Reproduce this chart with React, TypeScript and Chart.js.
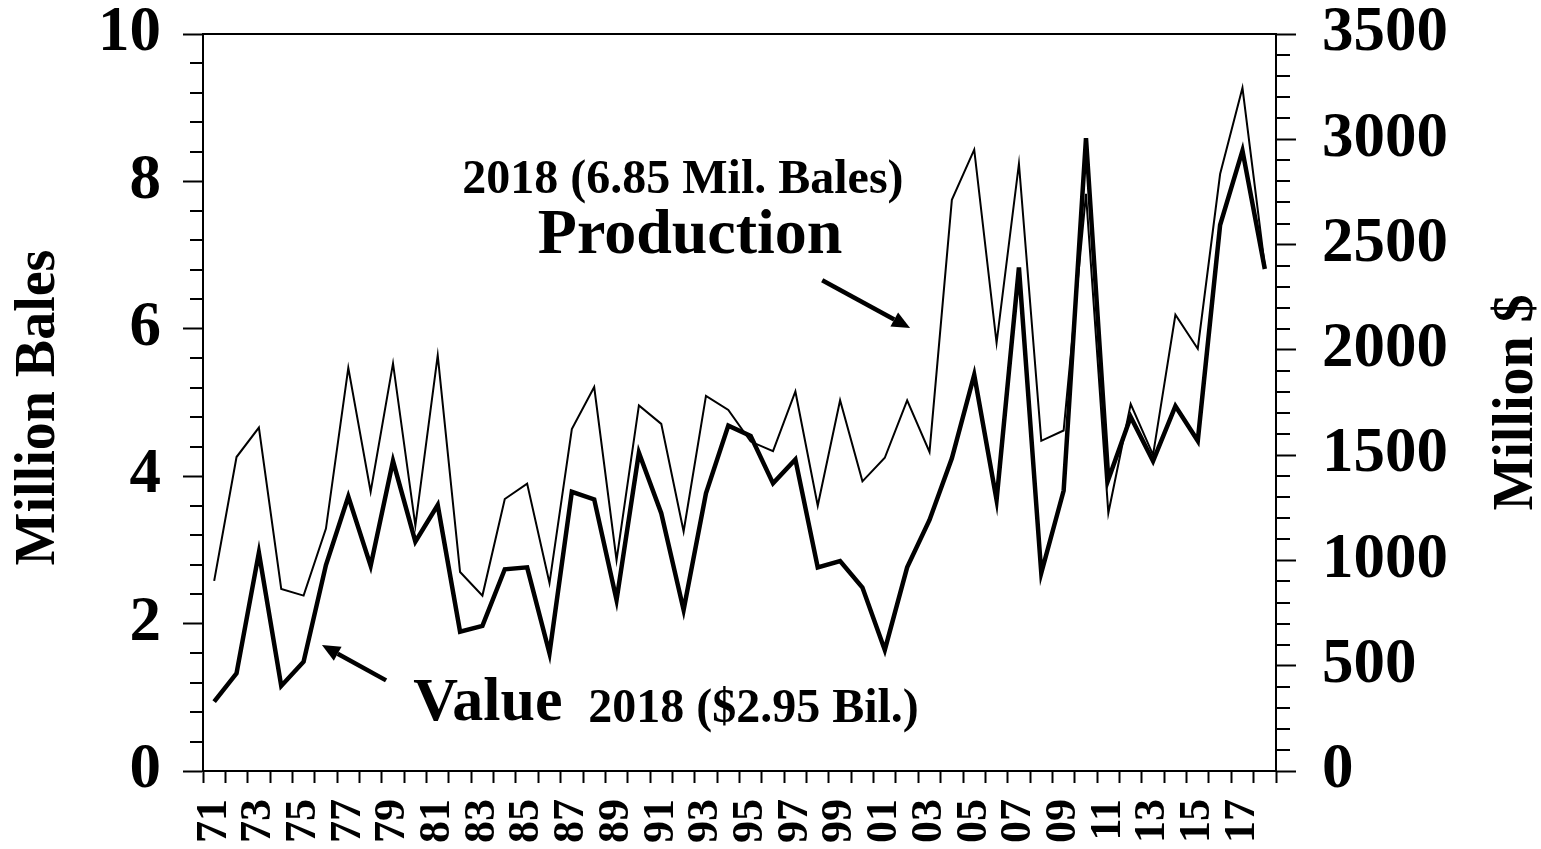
import React, { useEffect, useRef } from 'react';
import { Chart, registerables } from 'chart.js';

Chart.register(...registerables);

const years = [
  '71', '72', '73', '74', '75', '76', '77', '78', '79', '80',
  '81', '82', '83', '84', '85', '86', '87', '88', '89', '90',
  '91', '92', '93', '94', '95', '96', '97', '98', '99', '00',
  '01', '02', '03', '04', '05', '06', '07', '08', '09', '10',
  '11', '12', '13', '14', '15', '16', '17', '18',
];

// Million bales (left axis)
const production = [
  2.58, 4.26, 4.66, 2.47, 2.38, 3.29, 5.47, 3.79, 5.53, 3.33,
  5.64, 2.70, 2.38, 3.69, 3.90, 2.55, 4.64, 5.21, 2.86, 4.96,
  4.71, 3.25, 5.09, 4.90, 4.47, 4.34, 5.15, 3.60, 5.03, 3.93,
  4.25, 5.03, 4.33, 7.75, 8.43, 5.81, 8.24, 4.48, 4.62, 7.83,
  3.50, 4.98, 4.29, 6.19, 5.73, 8.10, 9.27, 6.85,
];

// Million $ (right axis)
const value = [
  329, 464, 1037, 404, 519, 978, 1303, 974, 1472, 1089,
  1263, 662, 689, 958, 967, 559, 1326, 1290, 812, 1512,
  1224, 765, 1319, 1640, 1591, 1366, 1480, 967, 997, 871,
  575, 967, 1192, 1485, 1881, 1287, 2391, 940, 1331, 3006,
  1384, 1681, 1472, 1733, 1568, 2593, 2946, 2384,
];

const leftAxis = { min: 0, max: 10, major: 2, minor: 0.4, title: 'Million Bales' };
const rightAxis = { min: 0, max: 3500, major: 500, minor: 100, title: 'Million $' };

const FONT = '"Liberation Serif", "Times New Roman", serif';

// annotations anchored in data space: [category index, left-axis value]
const textNotes = [
  { text: '2018 (6.85 Mil. Bales)', at: [20.97, 7.84], size: 48, align: 'center' },
  { text: 'Production', at: [21.29, 7.03], size: 64, align: 'center' },
  { text: 'Value', at: [8.9, 0.69], size: 62, align: 'left' },
  { text: '2018 ($2.95 Bil.)', at: [16.73, 0.665], size: 48, align: 'left' },
];
const arrowNotes = [
  { from: [27.2, 6.66], to: [31.13, 6.01] },
  { from: [7.69, 1.23], to: [4.82, 1.71] },
];

const decorPlugin = {
  id: 'decor',
  afterDraw(chart: any) {
    const ctx = chart.ctx as CanvasRenderingContext2D;
    const { left, right, top, bottom } = chart.chartArea;
    const xs = chart.scales.x;
    const ys = chart.scales.y;
    const y1 = chart.scales.y1;
    ctx.save();
    ctx.strokeStyle = '#000';
    ctx.fillStyle = '#000';
    ctx.lineWidth = 2;
    // top border
    ctx.beginPath();
    ctx.moveTo(left, top);
    ctx.lineTo(right, top);
    ctx.stroke();
    // minor ticks left
    const nL = Math.round((leftAxis.max - leftAxis.min) / leftAxis.minor);
    const perL = Math.round(leftAxis.major / leftAxis.minor);
    for (let k = 0; k <= nL; k++) {
      if (k % perL === 0) continue;
      const py = Math.round(ys.getPixelForValue(leftAxis.min + k * leftAxis.minor));
      ctx.beginPath();
      ctx.moveTo(left - 13, py);
      ctx.lineTo(left, py);
      ctx.stroke();
    }
    const nR = Math.round((rightAxis.max - rightAxis.min) / rightAxis.minor);
    const perR = Math.round(rightAxis.major / rightAxis.minor);
    for (let k = 0; k <= nR; k++) {
      if (k % perR === 0) continue;
      const py = Math.round(y1.getPixelForValue(rightAxis.min + k * rightAxis.minor));
      ctx.beginPath();
      ctx.moveTo(right, py);
      ctx.lineTo(right + 14, py);
      ctx.stroke();
    }
    // axis titles
    const midY = (top + bottom) / 2;
    ctx.font = `bold 56px ${FONT}`;
    ctx.textAlign = 'center';
    ctx.textBaseline = 'middle';
    ctx.save();
    ctx.translate(40, midY + 5);
    ctx.rotate(-Math.PI / 2);
    ctx.fillText(leftAxis.title, 0, 0);
    ctx.restore();
    ctx.save();
    ctx.translate(1518, midY);
    ctx.rotate(-Math.PI / 2);
    ctx.fillText(rightAxis.title, 0, 0);
    ctx.restore();
    // texts
    ctx.textBaseline = 'alphabetic';
    for (const n of textNotes) {
      ctx.font = `bold ${n.size}px ${FONT}`;
      ctx.textAlign = n.align as CanvasTextAlign;
      ctx.fillText(n.text, xs.getPixelForValue(n.at[0]), ys.getPixelForValue(n.at[1]));
    }
    // arrows
    for (const a of arrowNotes) {
      const x0 = xs.getPixelForValue(a.from[0]);
      const yy0 = ys.getPixelForValue(a.from[1]);
      const x1 = xs.getPixelForValue(a.to[0]);
      const yy1 = ys.getPixelForValue(a.to[1]);
      const ang = Math.atan2(yy1 - yy0, x1 - x0);
      const hl = 18;
      const hw = 8;
      const bx = x1 - hl * Math.cos(ang);
      const by = yy1 - hl * Math.sin(ang);
      ctx.lineWidth = 4.5;
      ctx.beginPath();
      ctx.moveTo(x0, yy0);
      ctx.lineTo(bx, by);
      ctx.stroke();
      ctx.beginPath();
      ctx.moveTo(x1, yy1);
      ctx.lineTo(bx + hw * Math.sin(ang), by - hw * Math.cos(ang));
      ctx.lineTo(bx - hw * Math.sin(ang), by + hw * Math.cos(ang));
      ctx.closePath();
      ctx.fill();
    }
    ctx.restore();
  },
};

export default function App() {
  const ref = useRef<HTMLCanvasElement>(null);
  useEffect(() => {
    if (!ref.current) return;
    const tickFont = { family: FONT, size: 63, weight: 'bold' as const, lineHeight: 1 };
    const chart = new Chart(ref.current, {
      type: 'line',
      data: {
        labels: years,
        datasets: [
          {
            label: 'Production',
            data: production,
            yAxisID: 'y',
            borderColor: '#000',
            borderWidth: 2,
            pointRadius: 0,
            tension: 0,
            fill: false,
            borderJoinStyle: 'miter',
          },
          {
            label: 'Value',
            data: value,
            yAxisID: 'y1',
            borderColor: '#000',
            borderWidth: 4.5,
            pointRadius: 0,
            tension: 0,
            fill: false,
            borderJoinStyle: 'miter',
          },
        ],
      },
      options: {
        responsive: false,
        animation: false,
        devicePixelRatio: 1,
        layout: { padding: { top: 34, left: 0, right: 0, bottom: 0 } },
        plugins: {
          legend: { display: false },
          tooltip: { enabled: false },
          title: { display: false },
        },
        scales: {
          x: {
            type: 'category',
            offset: true,
            grid: {
              offset: true,
              drawOnChartArea: false,
              drawTicks: true,
              tickLength: 12,
              tickWidth: 2,
              tickColor: '#000',
            },
            border: { display: true, color: '#000', width: 2 },
            ticks: {
              autoSkip: false,
              maxRotation: 90,
              minRotation: 90,
              padding: 16,
              color: '#000',
              font: { family: FONT, size: 44, weight: 'bold', lineHeight: 1 },
              callback: (_v: any, i: number) => (i % 2 === 0 ? years[i] : ''),
            },
            afterFit: (s: any) => {
              s.height = 78;
              s.paddingLeft = 0;
              s.paddingRight = 0;
            },
          },
          y: {
            type: 'linear',
            position: 'left',
            min: leftAxis.min,
            max: leftAxis.max,
            grid: {
              drawOnChartArea: false,
              drawTicks: true,
              tickLength: 20,
              tickWidth: 2,
              tickColor: '#000',
            },
            border: { display: true, color: '#000', width: 2 },
            ticks: {
              stepSize: leftAxis.major,
              padding: 22,
              color: '#000',
              font: tickFont,
              callback: (v: any) => String(v),
            },
            afterFit: (s: any) => {
              s.width = 203;
              s.paddingTop = 0;
              s.paddingBottom = 0;
            },
          },
          y1: {
            type: 'linear',
            position: 'right',
            min: rightAxis.min,
            max: rightAxis.max,
            grid: {
              drawOnChartArea: false,
              drawTicks: true,
              tickLength: 20,
              tickWidth: 2,
              tickColor: '#000',
            },
            border: { display: true, color: '#000', width: 2 },
            ticks: {
              stepSize: rightAxis.major,
              padding: 26,
              color: '#000',
              font: tickFont,
              callback: (v: any) => String(v),
            },
            afterFit: (s: any) => {
              s.width = 265;
              s.paddingTop = 0;
              s.paddingBottom = 0;
            },
          },
        },
      },
      plugins: [decorPlugin],
    });
    return () => chart.destroy();
  }, []);
  return (
    <div style={{ position: 'absolute', left: 0, top: 0, width: 1541, height: 849, background: '#fff' }}>
      <canvas ref={ref} width={1541} height={849} style={{ display: 'block' }} />
    </div>
  );
}
